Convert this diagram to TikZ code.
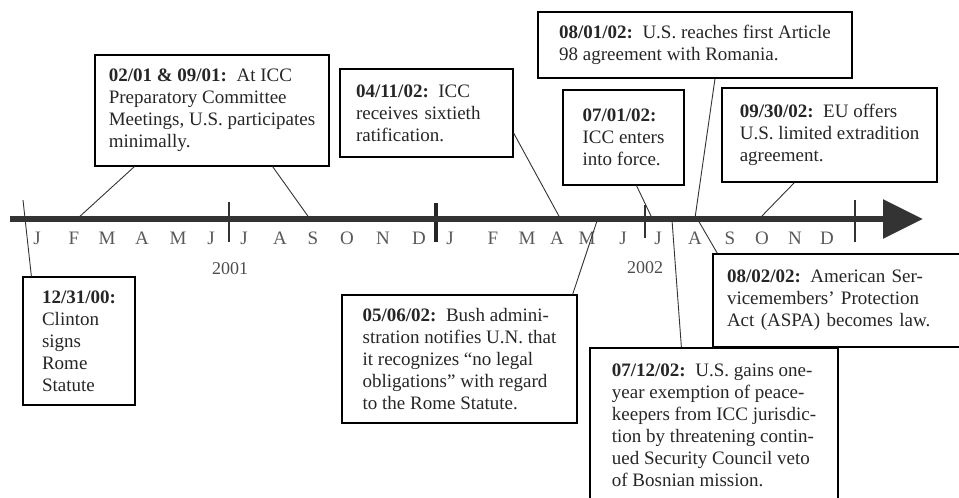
\documentclass[tikz,border=0pt]{standalone}
\usepackage{fontspec}
\setmainfont{Liberation Serif}
\usetikzlibrary{arrows.meta}

\begin{document}
\begin{tikzpicture}[x=1pt, y=-1pt,
	event/.style={rectangle, draw=black, line width=1.2pt, inner sep=0pt, align=left, text=black!85, font=\fontsize{19}{22}\selectfont},
	month/.style={text=black!65, inner sep=0pt, font=\fontsize{19}{20}\selectfont},
	year/.style={text=black!70, inner sep=0pt, font=\fontsize{18}{20}\selectfont},
	link/.style={line width=0.9pt, black!80},
	tick/.style={line width=1.2pt, black!80}
	]

	\clip (0,0) rectangle (959,498);

	\node (d1231) [event, minimum width=112pt, minimum height=128pt] at (79,341) {\textbf{12/31/00:}\\Clinton\\signs\\Rome\\Statute};
	\node (d0201) [event, minimum width=234pt, minimum height=111pt] at (212,110.5) {\textbf{02/01 \& 09/01:}\enspace At ICC\\Preparatory Committee\\Meetings, U.S. participates\\minimally.};
	\node (d0411) [event, minimum width=173pt, minimum height=88pt, text width=141pt] at (426.5,113) {\textbf{04/11/02:}\enspace ICC\\receives sixtieth\\ratification.};
	\node (d0801) [event, minimum width=314pt, minimum height=66pt] at (695,45) {\textbf{08/01/02:}\enspace U.S. reaches first Article\\98 agreement with Romania.};
	\node (d0701) [event, minimum width=121pt, minimum height=95pt] at (623.5,137.5) {\textbf{07/01/02:}\\ICC enters\\into force.};
	\node (d0930) [event, minimum width=215pt, minimum height=94pt] at (829.5,135) {\textbf{09/30/02:}\enspace EU offers\\U.S. limited extradition\\agreement.};
	\node (d0506) [event, minimum width=235pt, minimum height=128pt] at (459.5,359) {\textbf{05/06/02:}\enspace Bush admini-\\stration notifies U.N. that\\it recognizes ``no legal\\obligations'' with regard\\to the Rome Statute.};
	\node (d0802) [event, minimum width=252pt, minimum height=93pt, text width=224pt] at (839,300.5) {\textbf{08/02/02:}\enspace American Ser-\\vicemembers' Protection\\Act (ASPA) becomes law.};
	\node (d0712) [event, minimum width=248pt, minimum height=154pt] at (714,425) {\textbf{07/12/02:}\enspace U.S. gains one-\\year exemption of peace-\\keepers from ICC jurisdic-\\tion by threatening contin-\\ued Security Council veto\\of Bosnian mission.};

	\node (jan01) [month] at (37,238) {J};
	\node (feb01) [month] at (74,238) {F};
	\node (mar01) [month] at (107,238) {M};
	\node (apr01) [month] at (142,238) {A};
	\node (may01) [month] at (178,238) {M};
	\node (jun01) [month] at (211,238) {J};
	\node (jul01) [month] at (244,238) {J};
	\node (aug01) [month] at (280,238) {A};
	\node (sep01) [month] at (313,238) {S};
	\node (oct01) [month] at (347,238) {O};
	\node (nov01) [month] at (383,238) {N};
	\node (dec01) [month] at (419,238) {D};
	\node (jan02) [month] at (450,238) {J};
	\node (feb02) [month] at (493,238) {F};
	\node (mar02) [month] at (527,238) {M};
	\node (apr02) [month] at (557,238) {A};
	\node (may02) [month] at (587,238) {M};
	\node (jun02) [month] at (623,238) {J};
	\node (jul02) [month] at (658,238) {J};
	\node (aug02) [month] at (695,238) {A};
	\node (sep02) [month] at (730,238) {S};
	\node (oct02) [month] at (762,238) {O};
	\node (nov02) [month] at (795,238) {N};
	\node (dec02) [month] at (827,238) {D};

	\node (y2001) [year] at (230,269) {2001};
	\node (y2002) [year] at (645,268) {2002};

	\coordinate (axisstart) at (10,219);
	\coordinate (axisend) at (923,219);
	\coordinate (t1231) at (23,200);
	\coordinate (tfeb01) at (77,219);
	\coordinate (tsep01) at (310,219);
	\coordinate (t0411) at (560,218);
	\coordinate (t0506) at (597,221);
	\coordinate (t0701) at (652,218);
	\coordinate (t0712) at (672,220);
	\coordinate (t0801) at (695,218);
	\coordinate (t0802) at (698,220);
	\coordinate (t0930) at (760,218);

	\draw [link] (d1231.north west) ++(9,0) -- (t1231);
	\draw [link] (d0201.south west) ++(40,0) -- (tfeb01);
	\draw [link] (d0201.south east) ++(-57,0) -- (tsep01);
	\draw [link] (d0411.east) ++(0,20) -- (t0411);
	\draw [link] (d0506.north east) ++(-5,0) -- (t0506);
	\draw [link] (d0701.south) ++(13,0) -- (t0701);
	\draw [link] (d0712.north west) ++(92,0) -- (t0712);
	\draw [link] (d0801.south) ++(20,0) -- (t0801);
	\draw [link] (d0802.north west) ++(5,0) -- (t0802);
	\draw [link] (d0930.south west) ++(73,0) -- (t0930);

	\draw [tick] (229,202) -- (229,242);
	\draw [tick] (645,205) -- (645,238);
	\draw [tick] (855,200) -- (855,242);
	\draw [line width=4pt, black!85] (436,203) -- (436,242);

	\draw [line width=6pt, black!80, -{Triangle[length=40pt, width=38pt]}] (axisstart) -- (axisend);

\end{tikzpicture}
\end{document}
